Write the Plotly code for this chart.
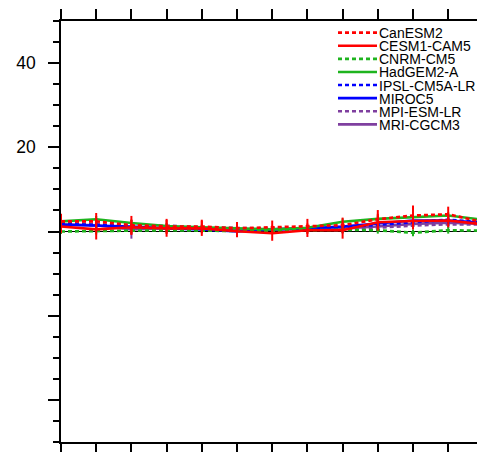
import plotly.graph_objects as go

# Monthly index (13th value continues past the right edge of the frame)
months = list(range(1, 14))

models = ["CanESM2", "CESM1-CAM5", "CNRM-CM5", "HadGEM2-A",
          "IPSL-CM5A-LR", "MIROC5", "MPI-ESM-LR", "MRI-CGCM3"]

canesm2 = [2.4, 2.4, 1.5, 1.2, 1.2, 0.75, 1.0, 1.2, 1.5, 2.9, 3.8, 4.1, 2.2]
cesm1_cam5 = [1.2, 0.5, 1.0, 0.75, 0.75, 0.05, -0.4, 0.3, 0.3, 2.2, 2.5, 2.6, 1.7]
cnrm_cm5 = [0.0, 0.1, 0.3, 0.3, 0.2, 0.1, 0.2, 0.3, 0.4, 0.3, -0.3, 0.3, 0.2]
hadgem2_a = [2.4, 2.9, 2.0, 1.3, 1.0, 0.7, 0.5, 0.9, 2.3, 3.0, 3.4, 3.8, 2.8]
ipsl_cm5a_lr = [1.8, 1.5, 1.2, 1.0, 0.7, 0.4, 0.3, 0.6, 1.0, 1.6, 2.2, 2.8, 2.2]
miroc5 = [1.6, 1.4, 1.2, 0.75, 0.5, 0.0, 0.5, 0.75, 1.2, 1.9, 2.6, 2.6, 2.1]
mpi_esm_lr = [2.0, 1.8, 1.2, 1.4, 1.0, 0.8, 0.7, 0.6, 0.3, 0.9, 1.4, 1.7, 1.7]
mri_cgcm3 = [1.7, 1.5, 0.5, 0.8, 0.7, 0.4, 0.5, 0.6, 0.7, 1.2, 1.8, 2.1, 1.8]

# Ensemble spread (half-range) per month
err_canesm2 = [1.8, 2.0, 2.2, 1.8, 1.6, 1.5, 1.6, 1.8, 1.8, 2.2, 2.4, 1.8, 1.8]
err_cesm1 = [1.6, 2.4, 1.8, 2.0, 1.8, 1.4, 1.8, 1.6, 2.0, 2.0, 2.0, 1.6, 1.6]
err_small = [0.6, 0.8, 0.8, 0.6, 0.6, 0.5, 0.6, 0.6, 0.8, 0.8, 0.8, 0.8, 0.6]
err_mri = [0.6, 0.8, 2.2, 0.6, 0.6, 0.5, 0.6, 0.6, 0.8, 0.8, 0.8, 0.8, 0.6]

series = [canesm2, cesm1_cam5, cnrm_cm5, hadgem2_a,
          ipsl_cm5a_lr, miroc5, mpi_esm_lr, mri_cgcm3]
errors = [err_canesm2, err_cesm1, err_small, err_small,
          err_small, err_small, err_small, err_mri]

RED, GREEN, BLUE, PURPLE = "#ff0000", "#1eb41e", "#0000ff", "#7f3f9f"
colors = [RED, RED, GREEN, GREEN, BLUE, BLUE, PURPLE, PURPLE]
DOT = "4px,3px"
dashes = [DOT, "solid", DOT, "solid", DOT, "solid", DOT, "solid"]

fig = go.Figure()
# draw in reverse so the first models sit on top
for name, y, e, c, d in reversed(list(zip(models, series, errors, colors, dashes))):
    fig.add_trace(go.Scatter(
        x=months, y=y, mode="lines", name=name, showlegend=False,
        line=dict(color=c, width=2.6, dash=d),
        error_y=dict(type="data", array=e, visible=True,
                     thickness=2, width=0, color=c),
    ))

W, H = 477, 452
ML, MR, MT, MB = 61, 0, 21, 7
PW, PH = W - ML - MR, H - MT - MB


def px_x(x):
    return (x - ML) / PW


def px_y(y):
    return (H - MB - y) / PH


# legend block in the upper right
leg_x0, leg_x1, leg_tx = 338, 377, 378
leg_y0, leg_dy = 32.7, 13.2
for i, (name, c, d) in enumerate(zip(models, colors, dashes)):
    yy = px_y(leg_y0 + i * leg_dy)
    fig.add_shape(type="line", xref="paper", yref="paper",
                  x0=px_x(leg_x0), x1=px_x(leg_x1), y0=yy, y1=yy,
                  line=dict(color=c, width=2.6, dash=d))
    fig.add_annotation(x=px_x(leg_tx), y=yy, xref="paper", yref="paper",
                       text=name, showarrow=False, xanchor="left",
                       yanchor="middle", borderpad=0, height=13,
                       valign="middle",
                       font=dict(family="Liberation Sans", size=14,
                                 color="black"))

fig.update_layout(
    width=W, height=H,
    margin=dict(l=ML, r=MR, t=MT, b=MB, pad=0),
    paper_bgcolor="white", plot_bgcolor="white",
    showlegend=False,
    xaxis=dict(range=[1, 1 + PW / 35.2], tickvals=months,
               ticks="outside", ticklen=10, tickwidth=1.5, tickcolor="black",
               showticklabels=False, showline=True, linewidth=1.5,
               linecolor="black", mirror="ticks", showgrid=False,
               zeroline=False),
    yaxis=dict(range=[-50, 50], tickvals=[-40, -20, 0, 20, 40],
               ticktext=["", "", "", "20", "40"],
               ticks="outside", ticklen=11, tickwidth=1.5, tickcolor="black",
               minor=dict(dtick=5, ticks="outside", ticklen=6,
                          tickwidth=1.5, tickcolor="black", showgrid=False),
               tickfont=dict(family="Liberation Sans", size=17.5,
                             color="black"),
               ticklabelstandoff=9,
               showline=True, linewidth=1.5, linecolor="black",
               showgrid=False, zeroline=True, zerolinecolor="black",
               zerolinewidth=1),
)

fig.write_html("out.html")
